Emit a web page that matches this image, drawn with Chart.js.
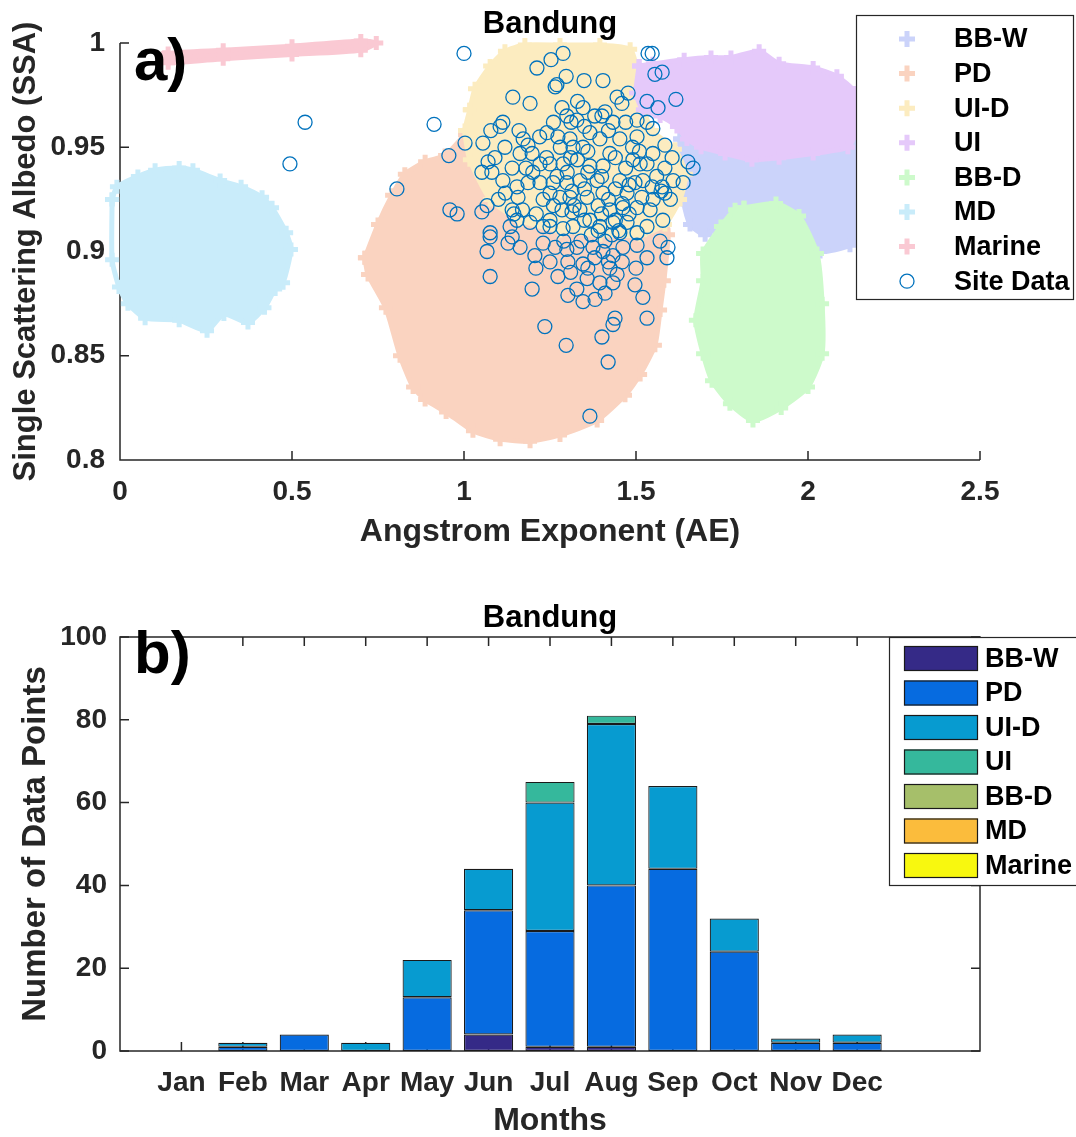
<!DOCTYPE html>
<html>
<head>
<meta charset="utf-8">
<script src="https://cdn.jsdelivr.net/npm/chart.js@4.4.0/dist/chart.umd.min.js"></script>
<style>
body { margin: 0; background: #fff; }
#wrap { position: relative; width: 1076px; height: 1137px; }
canvas { position: absolute; left: 0; }
#chartA { top: 0; }
#chartB { top: 565px; }
</style>
</head>
<body>
<div id="wrap">
  <canvas id="chartA" width="1076" height="565"></canvas>
  <canvas id="chartB" width="1076" height="572"></canvas>
</div>
<script>
const FONT = '"Liberation Sans", Arial, sans-serif';
const INK = '#262626';

// ---- panel a: AE vs SSA ----
const aeTicks = [0, 0.5, 1, 1.5, 2, 2.5];
const aeTickLabels = ['0', '0.5', '1', '1.5', '2', '2.5'];
const ssaTicks = [0.8, 0.85, 0.9, 0.95, 1];
const ssaTickLabels = ['0.8', '0.85', '0.9', '0.95', '1'];

const classNames = ['BB-W', 'PD', 'UI-D', 'UI', 'BB-D', 'MD', 'Marine'];
const cloudColors = ['#cbd3fa', '#fad3c0', '#fcecc0', '#e5c9fa', '#cdfacb', '#c9ecfa', '#fac9d3'];

// outlines of the reference clouds (AE, SSA)
const bbwCloud = [[1.628,0.954],[1.686,0.958],[1.860,0.958],[2.122,0.956],[2.151,0.944],[2.145,0.925],[2.157,0.910],
  [2.122,0.903],[2.035,0.900],[1.948,0.908],[1.860,0.913],[1.773,0.915],[1.701,0.908],[1.657,0.913],[1.637,0.925],[1.628,0.939]];
const pdCloud = [[0.712,0.897],[0.750,0.913],[0.791,0.927],[0.828,0.937],[0.887,0.943],[0.945,0.946],[1.003,0.956],
  [1.047,0.963],[1.163,0.967],[1.395,0.966],[1.512,0.944],[1.576,0.925],[1.593,0.908],[1.581,0.886],[1.570,0.872],
  [1.555,0.855],[1.512,0.841],[1.468,0.831],[1.387,0.819],[1.279,0.812],[1.192,0.809],[1.105,0.810],[1.026,0.814],
  [0.948,0.823],[0.887,0.829],[0.852,0.835],[0.814,0.850],[0.773,0.873],[0.721,0.889]];
const uidCloud = [[1.017,0.968],[1.032,0.978],[1.076,0.989],[1.119,0.996],[1.177,0.999],[1.279,0.999],[1.395,0.999],
  [1.483,0.997],[1.503,0.987],[1.512,0.973],[1.547,0.958],[1.613,0.949],[1.645,0.937],[1.628,0.925],[1.584,0.913],
  [1.512,0.908],[1.395,0.908],[1.279,0.910],[1.163,0.915],[1.076,0.925],[1.017,0.944],[1.003,0.958]];
const uiCloud = [[1.509,0.989],[1.549,0.990],[1.640,0.992],[1.718,0.993],[1.776,0.993],[1.858,0.996],[1.916,0.990],
  [2.015,0.988],[2.084,0.984],[2.137,0.976],[2.137,0.957],[2.116,0.950],[2.015,0.947],[1.916,0.945],[1.837,0.944],
  [1.759,0.947],[1.689,0.950],[1.648,0.954],[1.619,0.960],[1.570,0.965],[1.520,0.968],[1.500,0.976]];
const bbdCloud = [[1.814,0.921],[1.907,0.923],[1.974,0.917],[2.026,0.899],[2.041,0.875],[2.041,0.851],[2.000,0.835],
  [1.922,0.825],[1.840,0.819],[1.773,0.827],[1.721,0.838],[1.695,0.851],[1.674,0.867],[1.695,0.886],[1.695,0.899],
  [1.747,0.912],[1.788,0.920]];
const mdCloud = [[-0.023,0.925],[-0.009,0.931],[0.052,0.936],[0.102,0.939],[0.172,0.940],[0.212,0.939],[0.291,0.934],
  [0.352,0.931],[0.413,0.926],[0.442,0.921],[0.483,0.909],[0.497,0.901],[0.474,0.885],[0.451,0.882],[0.420,0.873],
  [0.372,0.866],[0.302,0.870],[0.253,0.862],[0.172,0.867],[0.073,0.868],[0.023,0.875],[-0.003,0.883],[-0.023,0.896]];
const marineCloud = [[0.13,0.993],[0.14,0.995],[0.30,0.9965],[0.50,0.9985],[0.70,1.001],[0.745,1.000],
  [0.70,0.9965],[0.50,0.9945],[0.30,0.9925],[0.14,0.9905]];

// Bandung site data (AE, SSA)
const siteData = [
  [1.000,0.995],[1.212,0.988],[1.253,0.992],[1.288,0.995],[1.297,0.984],[1.265,0.979],[1.270,0.980],[1.142,0.974],
  [1.192,0.971],[1.285,0.969],[1.299,0.965],[1.311,0.962],[1.113,0.962],[1.105,0.960],[1.078,0.958],[1.003,0.952],
  [0.956,0.946],[1.055,0.952],[1.119,0.950],[1.172,0.954],[1.186,0.951],[1.163,0.947],[1.198,0.947],[1.241,0.957],
  [1.273,0.955],[1.308,0.954],[1.070,0.943],[1.090,0.945],[1.221,0.942],[1.250,0.942],[1.288,0.942],[1.140,0.940],
  [1.081,0.938],[1.113,0.934],[1.154,0.931],[1.186,0.933],[1.221,0.933],[1.259,0.933],[1.299,0.933],[1.250,0.928],
  [1.279,0.926],[1.314,0.929],[1.157,0.926],[1.140,0.920],[1.154,0.915],[1.067,0.922],[1.052,0.919],[0.959,0.920],
  [0.980,0.918],[1.192,0.914],[1.230,0.912],[1.250,0.912],[1.288,0.911],[1.076,0.909],[1.140,0.907],[1.314,0.919],
  [1.285,0.920],
  [1.535,0.995],[1.547,0.995],[1.555,0.985],[1.576,0.986],[1.616,0.973],[1.564,0.969],[1.532,0.972],[1.477,0.976],
  [1.445,0.974],[1.459,0.971],[1.404,0.982],[1.349,0.982],[1.410,0.967],[1.401,0.965],[1.346,0.969],[1.328,0.963],
  [1.433,0.962],[1.503,0.963],[1.532,0.962],[1.549,0.959],[1.366,0.957],[1.395,0.954],[1.453,0.954],[1.503,0.955],
  [1.584,0.951],[1.549,0.947],[1.605,0.945],[1.651,0.943],[1.666,0.940],[1.317,0.950],[1.346,0.950],[1.424,0.947],
  [1.491,0.944],[1.512,0.942],[1.532,0.942],[1.584,0.940],[1.366,0.941],[1.404,0.941],[1.337,0.934],[1.387,0.934],
  [1.453,0.934],[1.497,0.933],[1.547,0.931],[1.576,0.931],[1.608,0.934],[1.637,0.933],[1.584,0.928],[1.308,0.926],
  [1.358,0.926],[1.404,0.928],[1.474,0.928],[1.517,0.926],[1.337,0.920],[1.424,0.920],[1.462,0.921],[1.503,0.921],
  [1.541,0.920],[1.578,0.915],[1.366,0.915],[1.433,0.914],[1.474,0.914],[1.532,0.912],[1.317,0.912],[1.395,0.912],
  [1.453,0.909],[1.503,0.909],
  [1.076,0.907],[1.067,0.900],[1.128,0.904],[1.163,0.902],[1.206,0.898],[1.209,0.892],[1.230,0.904],[1.265,0.902],
  [1.299,0.901],[1.302,0.895],[1.076,0.888],[1.198,0.882],[1.273,0.888],[1.302,0.879],[1.235,0.864],[1.297,0.855],
  [1.328,0.902],[1.346,0.894],[1.375,0.902],[1.404,0.900],[1.433,0.898],[1.462,0.902],[1.503,0.903],[1.532,0.897],
  [1.570,0.905],[1.593,0.902],[1.590,0.897],[1.424,0.892],[1.445,0.889],[1.358,0.887],[1.395,0.885],[1.433,0.885],
  [1.497,0.884],[1.328,0.882],[1.346,0.876],[1.381,0.877],[1.520,0.878],[1.439,0.868],[1.433,0.865],[1.401,0.859],
  [1.532,0.868],[1.419,0.847],[1.366,0.821],
  [0.538,0.962],[0.494,0.942],[0.805,0.930],[0.913,0.961],[1.134,0.912],[1.145,0.918],[1.052,0.938],[1.573,0.929],
  [1.400,0.918],[1.420,0.925],[1.440,0.915],[1.450,0.910],[1.410,0.905],[1.430,0.908],[1.390,0.922],[1.460,0.923],
  [1.370,0.908],[1.350,0.915],[1.420,0.895],[1.380,0.897],[1.300,0.938],[1.270,0.936],[1.230,0.925],[1.200,0.938],
  [1.260,0.922],[1.240,0.945],[1.330,0.944],[1.360,0.948],[1.350,0.930],[1.320,0.922],[1.470,0.940],[1.490,0.950],
  [1.520,0.934],
  [1.220,0.955],[1.260,0.962],[1.330,0.972],[1.380,0.965],[1.420,0.958],[1.470,0.962],[1.510,0.948],[1.560,0.936],
  [1.600,0.925],[1.550,0.925],[1.480,0.918],[1.440,0.930],[1.400,0.936],[1.360,0.938],[1.310,0.945],[1.280,0.950],
  [1.180,0.940],[1.170,0.920],[1.210,0.918],[1.250,0.915],[1.290,0.905],[1.340,0.905],[1.390,0.910],[1.460,0.895],
  [1.500,0.892],[1.410,0.880],[1.360,0.892],[1.250,0.895],[1.310,0.890],[1.120,0.928],[1.100,0.925],[1.160,0.958],
  [1.350,0.960],[1.440,0.945],[1.480,0.932]
];

// ---- panel b: monthly counts ----
const months = ['Jan', 'Feb', 'Mar', 'Apr', 'May', 'Jun', 'Jul', 'Aug', 'Sep', 'Oct', 'Nov', 'Dec'];
const countBBW   = [0, 0, 0, 0, 0, 4, 1, 1, 0, 0, 0, 0];
const countPD    = [0, 1, 4, 0, 13, 30, 28, 39, 44, 24, 2, 2];
const countUID   = [0, 1, 0, 2, 9, 10, 31, 39, 20, 8, 1, 2];
const countUI    = [0, 0, 0, 0, 0, 0, 5, 2, 0, 0, 0, 0];
const countBBD   = [0, 0, 0, 0, 0, 0, 0, 0, 0, 0, 0, 0];
const countMD    = [0, 0, 0, 0, 0, 0, 0, 0, 0, 0, 0, 0];
const countMarine = [0, 0, 0, 0, 0, 0, 0, 0, 0, 0, 0, 0];
const barColors = ['#352a87', '#066be0', '#079bd0', '#35b89c', '#a6bf6a', '#fbbc3c', '#f8f80f'];
const countTicks = [0, 20, 40, 60, 80, 100];

const font = (size) => ({ family: FONT, size: size, weight: 'bold' });

function cloudSet(label, pts, color, order) {
    const closed = pts.concat([pts[0]]);
    return {
        label, order,
        data: closed.map(p => ({ x: p[0], y: p[1] })),
        showLine: true, fill: 'shape', tension: 0.2,
        backgroundColor: color, borderColor: color, borderWidth: 5, borderJoinStyle: 'round',
        pointStyle: 'cross', pointRadius: 7, pointBorderWidth: 5, pointBorderColor: color,
        clip: false
    };
}

function drawPlus(ctx, x, y, color) {
    ctx.save();
    ctx.strokeStyle = color; ctx.lineWidth = 5;
    ctx.beginPath();
    ctx.moveTo(x - 8, y); ctx.lineTo(x + 8, y);
    ctx.moveTo(x, y - 8); ctx.lineTo(x, y + 8);
    ctx.stroke();
    ctx.restore();
}

const panelA = {
    id: 'panelA',
    beforeDatasetsDraw(chart) {
        const { ctx, chartArea: a, scales: { x, y } } = chart;
        ctx.save();
        ctx.strokeStyle = INK; ctx.lineWidth = 1.5;
        ctx.beginPath();
        ctx.moveTo(a.left, a.top); ctx.lineTo(a.left, a.bottom); ctx.lineTo(a.right, a.bottom);
        aeTicks.forEach(v => { const px = x.getPixelForValue(v); ctx.moveTo(px, a.bottom); ctx.lineTo(px, a.bottom - 9); });
        ssaTicks.forEach(v => { const py = y.getPixelForValue(v); ctx.moveTo(a.left, py); ctx.lineTo(a.left + 9, py); });
        ctx.stroke();
        ctx.restore();
    },
    afterDraw(chart) {
        const { ctx, chartArea: a } = chart;
        ctx.save();
        ctx.fillStyle = '#000';
        ctx.textAlign = 'center'; ctx.textBaseline = 'alphabetic';
        ctx.font = 'bold 31px ' + FONT;
        ctx.fillText('Bandung', (a.left + a.right) / 2, 33);
        ctx.textAlign = 'left';
        ctx.font = 'bold 60px ' + FONT;
        ctx.fillText('a)', 134, 80);

        // legend
        ctx.fillStyle = '#fff'; ctx.strokeStyle = INK; ctx.lineWidth = 1.2;
        ctx.fillRect(856, 15, 220, 285);
        ctx.strokeRect(856.5, 15.5, 217, 284);
        const names = classNames.concat(['Site Data']);
        ctx.font = 'bold 27px ' + FONT;
        ctx.textBaseline = 'middle';
        names.forEach((n, i) => {
            const ry = 39 + i * 34.6;
            if (i < classNames.length) {
                drawPlus(ctx, 907, ry, cloudColors[i]);
            } else {
                ctx.strokeStyle = '#0072bd'; ctx.lineWidth = 1.3;
                ctx.beginPath(); ctx.arc(907, ry, 7, 0, Math.PI * 2); ctx.stroke();
            }
            ctx.fillStyle = '#000';
            ctx.fillText(n, 954, ry + 1);
        });
        ctx.restore();
    }
};

const cloudData = [bbwCloud, pdCloud, uidCloud, uiCloud, bbdCloud, mdCloud, marineCloud];
const cloudSets = classNames.map((n, k) => cloudSet(n, cloudData[k], cloudColors[k], 7 - k));

new Chart(document.getElementById('chartA'), {
    type: 'scatter',
    data: {
        datasets: [
            {
                label: 'Site Data', order: 0,
                data: siteData.map(p => ({ x: p[0], y: p[1] })),
                pointStyle: 'circle', pointRadius: 7, borderWidth: 1.3,
                borderColor: '#0072bd', backgroundColor: 'rgba(0,0,0,0)'
            },
            ...cloudSets
        ]
    },
    options: {
        responsive: false, animation: false, events: [],
        layout: { padding: { top: 43, right: 96, left: 0, bottom: 0 } },
        plugins: { legend: { display: false }, tooltip: { enabled: false } },
        scales: {
            x: {
                type: 'linear', min: 0, max: 2.5,
                afterFit: s => { s.height = 105; },
                afterBuildTicks: s => { s.ticks = aeTicks.map(v => ({ value: v })); },
                grid: { display: false, drawTicks: false }, border: { display: false },
                ticks: { color: INK, font: font(28), padding: 15, maxRotation: 0, callback: (v, i) => aeTickLabels[i] },
                title: { display: true, text: 'Angstrom Exponent (AE)', color: INK, font: font(32), padding: { top: 0, bottom: 14 } }
            },
            y: {
                type: 'linear', min: 0.8, max: 1,
                afterFit: s => { s.width = 120; },
                afterBuildTicks: s => { s.ticks = ssaTicks.map(v => ({ value: v })); },
                grid: { display: false, drawTicks: false }, border: { display: false },
                ticks: { color: INK, font: font(28), padding: 15, callback: (v, i) => ssaTickLabels[i] },
                title: { display: true, text: 'Single Scattering Albedo (SSA)', color: INK, font: font(31), padding: { top: 8, bottom: 0 } }
            }
        }
    },
    plugins: [panelA]
});

// ---- panel b ----
const counts = [countBBW, countPD, countUID, countUI, countBBD, countMD, countMarine];
const slotLabels = [''].concat(months, ['', '']);

const panelB = {
    id: 'panelB',
    beforeDatasetsDraw(chart) {
        const { ctx, chartArea: a, scales: { x, y } } = chart;
        ctx.save();
        ctx.strokeStyle = INK; ctx.lineWidth = 1.5;
        ctx.strokeRect(a.left, a.top, a.right - a.left, a.bottom - a.top);
        ctx.beginPath();
        months.forEach((m, i) => {
            const px = x.getPixelForValue(i + 1);
            ctx.moveTo(px, a.bottom); ctx.lineTo(px, a.bottom - 9);
            ctx.moveTo(px, a.top); ctx.lineTo(px, a.top + 9);
        });
        countTicks.forEach(v => {
            const py = y.getPixelForValue(v);
            ctx.moveTo(a.left, py); ctx.lineTo(a.left + 9, py);
            ctx.moveTo(a.right, py); ctx.lineTo(a.right - 9, py);
        });
        ctx.stroke();
        ctx.restore();
    },
    afterDraw(chart) {
        const { ctx, chartArea: a } = chart;
        ctx.save();
        ctx.fillStyle = '#000';
        ctx.textAlign = 'center'; ctx.textBaseline = 'alphabetic';
        ctx.font = 'bold 31px ' + FONT;
        ctx.fillText('Bandung', (a.left + a.right) / 2, 62);
        ctx.textAlign = 'left';
        ctx.font = 'bold 60px ' + FONT;
        ctx.fillText('b)', 134, 108);

        // legend
        ctx.fillStyle = '#fff'; ctx.strokeStyle = INK; ctx.lineWidth = 1.2;
        ctx.fillRect(889, 72, 190, 249);
        ctx.strokeRect(889.5, 72.5, 200, 248);
        ctx.font = 'bold 27px ' + FONT;
        ctx.textBaseline = 'middle';
        classNames.forEach((n, i) => {
            const top = 81 + i * 34.5;
            ctx.fillStyle = barColors[i];
            ctx.fillRect(904, top, 74, 25);
            ctx.strokeStyle = '#1a1a1a'; ctx.lineWidth = 1.2;
            ctx.strokeRect(904.5, top + 0.5, 73, 24);
            ctx.fillStyle = '#000';
            ctx.fillText(n, 985, top + 13.5);
        });
        ctx.restore();
    }
};

new Chart(document.getElementById('chartB'), {
    type: 'bar',
    data: {
        labels: slotLabels,
        datasets: classNames.map((n, k) => ({
            label: n,
            data: [null].concat(counts[k].map(v => v || null), [null, null]),
            backgroundColor: barColors[k], borderColor: '#1a1a1a', borderWidth: 1.2, borderSkipped: false,
            barPercentage: 0.8, categoryPercentage: 1
        }))
    },
    options: {
        responsive: false, animation: false, events: [],
        layout: { padding: { top: 72, right: 96, left: 0, bottom: 0 } },
        plugins: { legend: { display: false }, tooltip: { enabled: false } },
        scales: {
            x: {
                type: 'category', stacked: true, offset: false,
                afterFit: s => { s.height = 86; },
                grid: { display: false, drawTicks: false }, border: { display: false },
                ticks: { color: INK, font: font(28), padding: 15, autoSkip: false, maxRotation: 0 },
                title: { display: true, text: 'Months', color: INK, font: { family: FONT, size: 32, weight: 'bold', lineHeight: 1 }, padding: { top: 0, bottom: 0 } }
            },
            y: {
                type: 'linear', stacked: true, min: 0, max: 100,
                afterFit: s => { s.width = 120; },
                afterBuildTicks: s => { s.ticks = countTicks.map(v => ({ value: v })); },
                grid: { display: false, drawTicks: false }, border: { display: false },
                ticks: { color: INK, font: font(28), padding: 13 },
                title: { display: true, text: 'Number of Data Points', color: INK, font: font(33), padding: { top: 16, bottom: 0 } }
            }
        }
    },
    plugins: [panelB]
});
</script>
</body>
</html>
